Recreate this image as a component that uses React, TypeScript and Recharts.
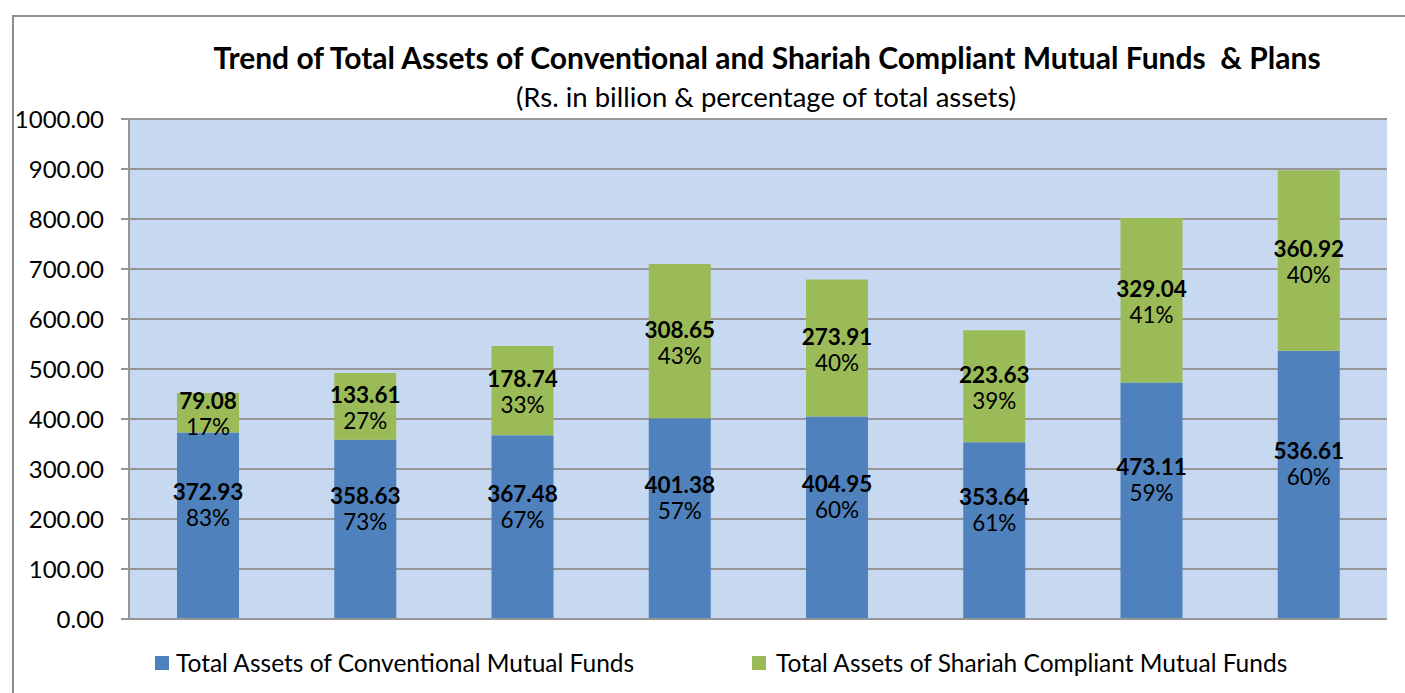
import { Bar, BarChart, CartesianGrid, LabelList, XAxis, YAxis } from "recharts";

const periods = ["1", "2", "3", "4", "5", "6", "7", "8"];
const conventional = [372.93, 358.63, 367.48, 401.38, 404.95, 353.64, 473.11, 536.61];
const shariah = [79.08, 133.61, 178.74, 308.65, 273.91, 223.63, 329.04, 360.92];
const conventionalPct = [83, 73, 67, 57, 60, 61, 59, 60];
const shariahPct = [17, 27, 33, 43, 40, 39, 41, 40];
const yTicks = [0, 100, 200, 300, 400, 500, 600, 700, 800, 900, 1000];

const data = periods.map((p, i) => ({
  period: p,
  conventional: conventional[i],
  shariah: shariah[i],
  conventionalPct: conventionalPct[i],
  shariahPct: shariahPct[i],
}));

const FONT = "Lato, 'Open Sans', sans-serif";
const BLUE = "#4f81bd";
const GREEN = "#9bbb59";

function makeLabel(pcts: number[], shift: number) {
  return (props: any) => {
    const { x, y, width, height, value, index } = props;
    const cx = Number(x) + Number(width) / 2;
    const cy = Number(y) + Number(height) / 2 + shift;
    return (
      <g>
        <text x={cx} y={cy - 12} textAnchor="middle" dominantBaseline="central"
          fontFamily={FONT} fontSize={22.5} fontWeight="bold" fill="#000">
          {Number(value).toFixed(2)}
        </text>
        <text x={cx} y={cy + 14} textAnchor="middle" dominantBaseline="central"
          fontFamily={FONT} fontSize={22.5} fill="#000">
          {pcts[index]}%
        </text>
      </g>
    );
  };
}

export default function App() {
  return (
    <div style={{ position: "absolute", left: 0, top: 0, width: 1405, height: 693, overflow: "hidden", background: "#fff" }}>
      <div style={{ position: "absolute", left: 12, top: 15, width: 1450, height: 750, border: "2px solid #8c8c8c" }} />
      <div style={{ position: "absolute", left: 0, width: 1534, top: 38, textAlign: "center", fontFamily: FONT, fontWeight: "bold", fontSize: 30, lineHeight: "38px", color: "#000", whiteSpace: "nowrap" }}>
        Trend of Total Assets of Conventional and Shariah Compliant Mutual Funds &nbsp;&amp; Plans
      </div>
      <div style={{ position: "absolute", left: 0, width: 1532, top: 80, textAlign: "center", fontFamily: FONT, fontSize: 27.5, lineHeight: "34px", color: "#000", whiteSpace: "nowrap" }}>
        (Rs. in billion &amp; percentage of total assets)
      </div>
      <div style={{ position: "absolute", left: 0, top: 0 }}>
        <BarChart width={1405} height={693} data={data}
          margin={{ top: 119, right: 18, left: 0, bottom: 73 }} barSize={62}>
          <CartesianGrid vertical={false} fill="#c6d9f1" stroke="#969696" strokeWidth={2} strokeOpacity={1} />
          <XAxis dataKey="period" tick={false} tickLine={false} height={1}
            axisLine={{ stroke: "#969696", strokeWidth: 2 }} />
          <YAxis width={129} domain={[0, 1000]} ticks={yTicks} interval={0}
            tickFormatter={(v: number) => v.toFixed(2)}
            tick={{ fontFamily: FONT, fontSize: 24, fill: "#000" }}
            tickSize={8} tickMargin={17}
            tickLine={{ stroke: "#969696", strokeWidth: 2 }}
            axisLine={{ stroke: "#969696", strokeWidth: 2 }} />
          <Bar dataKey="conventional" stackId="a" fill={BLUE} isAnimationActive={false}>
            <LabelList dataKey="conventional" content={makeLabel(conventionalPct, -22)} />
          </Bar>
          <Bar dataKey="shariah" stackId="a" fill={GREEN} isAnimationActive={false}>
            <LabelList dataKey="shariah" content={makeLabel(shariahPct, 0)} />
          </Bar>
        </BarChart>
      </div>
      <div style={{ position: "absolute", top: 648, left: 155, display: "flex", alignItems: "center", fontFamily: FONT, fontSize: 24.5, lineHeight: "30px", color: "#000", whiteSpace: "nowrap" }}>
        <span style={{ display: "inline-block", width: 14, height: 14, background: BLUE, marginRight: 7 }} />
        Total Assets of Conventional Mutual Funds
      </div>
      <div style={{ position: "absolute", top: 648, left: 752, display: "flex", alignItems: "center", fontFamily: FONT, fontSize: 24.5, lineHeight: "30px", color: "#000", whiteSpace: "nowrap" }}>
        <span style={{ display: "inline-block", width: 14, height: 14, background: GREEN, marginRight: 10 }} />
        Total Assets of Shariah Compliant Mutual Funds
      </div>
    </div>
  );
}
